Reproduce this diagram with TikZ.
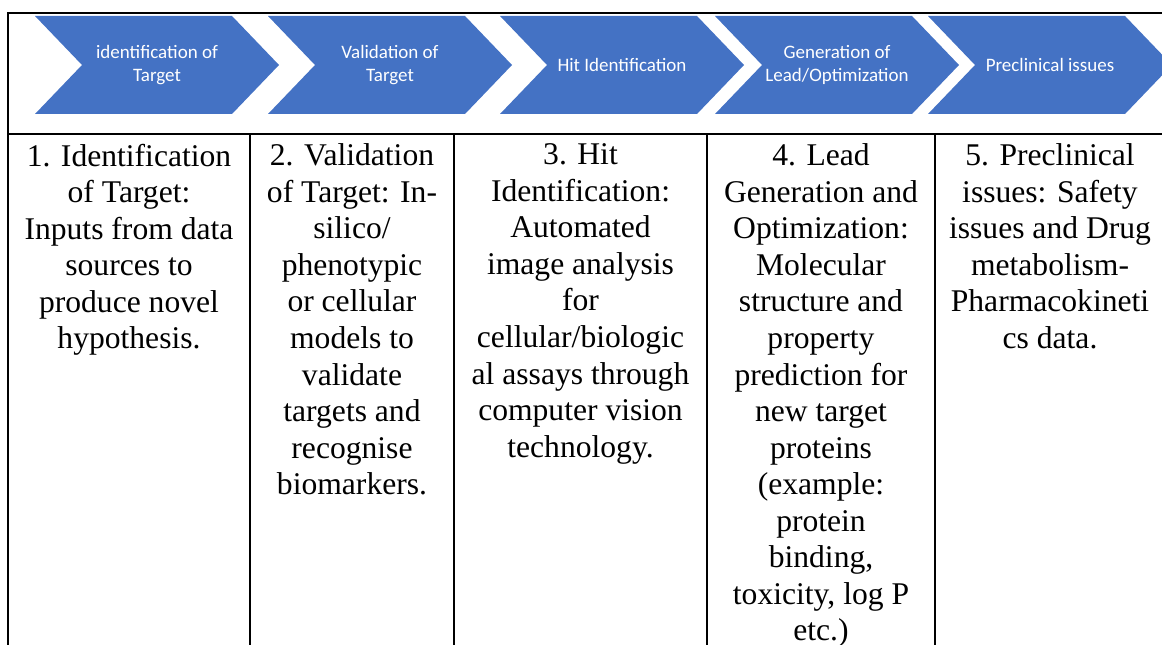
\documentclass[tikz,border=0pt]{standalone}
\usepackage{fontspec}
\setmainfont{Liberation Serif}
\newfontfamily\chevfont{Carlito}
\usetikzlibrary{calc}
\definecolor{stepblue}{HTML}{4472C4}

\begin{document}
\begin{tikzpicture}[x=0.75pt, y=-0.75pt, line width=1.4pt,
  chevtext/.style={text=white, font=\chevfont\fontsize{14.25}{17.3}\selectfont, align=center, inner sep=0pt},
  cell/.style={anchor=north, align=center, inner sep=0pt, font=\fontsize{23.7}{27.4}\selectfont}]
  \useasboundingbox (0,0) rectangle (1162,645);
  \clip (0,0) rectangle (1162,645);
  % chevrons along the top
  \foreach \l/\txt [count=\i] in {35/{identification of\\Target}, 268/{Validation of\\Target}, 500/{Hit Identification}, 715/{Generation of\\Lead/Optimization}, 928/{Preclinical issues}} {
    \fill[stepblue] (\l,16) -- ++(197,0) -- ++(47,49) -- ++(-47,49) -- ++(-197,0) -- ++(47,-49) -- cycle;
    \node[chevtext] (chev\i) at (\l+122,65) {\txt};
  }
  % table frame
  \draw (8,645) -- (8,13) -- (1162,13);
  \draw (8,134) -- (1162,134);
  \foreach \x in {250,454,707,935} \draw (\x,134) -- (\x,645);
  % cells
  \node[cell] (step1) at (129,143) {1. Identification\\of Target:\\Inputs from data\\sources to\\produce novel\\hypothesis.};
  \node[cell] (step2) at (352,143) {2. Validation\\of Target: In-\\silico/\\phenotypic\\or cellular\\models to\\validate\\targets and\\recognise\\biomarkers.};
  \node[cell] (step3) at (580.5,143) {3. Hit\\Identification:\\Automated\\image analysis\\for\\cellular/biologic\\al assays through\\computer vision\\technology.};
  \node[cell] (step4) at (821,143) {4. Lead\\Generation and\\Optimization:\\Molecular\\structure and\\property\\prediction for\\new target\\proteins\\(example:\\protein\\binding,\\toxicity, log P\\etc.)};
  \node[cell] (step5) at (1050,143) {5. Preclinical\\issues: Safety\\issues and Drug\\metabolism-\\Pharmacokineti\\cs data.};
\end{tikzpicture}
\end{document}
